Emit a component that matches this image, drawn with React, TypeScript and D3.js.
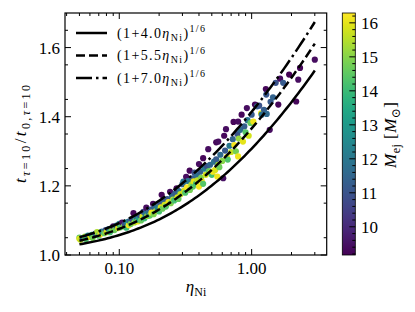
import * as d3 from "d3";

// eta_Ni, t ratio and ejecta mass for each model
const etaNi = [
  0.05, 0.05, 0.051, 0.053, 0.055, 0.056, 0.058, 0.06, 0.062, 0.063, 0.066, 0.068, 0.07, 0.072, 0.074, 0.077, 0.079, 0.08,
  0.083, 0.085, 0.088, 0.09, 0.092, 0.095, 0.098, 0.1, 0.102, 0.105,
  0.108, 0.11, 0.113, 0.115, 0.118, 0.12, 0.122, 0.125, 0.128, 0.13, 0.133, 0.135, 0.138, 0.14, 0.143, 0.146, 0.15, 0.152,
  0.155, 0.158, 0.16, 0.163, 0.166, 0.17, 0.172, 0.175, 0.18, 0.182, 0.185, 0.19, 0.195, 0.2, 0.203, 0.206, 0.209, 0.212,
  0.216, 0.22, 0.225, 0.23, 0.235, 0.242, 0.245, 0.25, 0.255, 0.26, 0.265, 0.271, 0.275, 0.28, 0.285, 0.29,
  0.3, 0.305, 0.31, 0.315, 0.32, 0.325, 0.33, 0.34, 0.342, 0.35, 0.355, 0.36, 0.365, 0.37, 0.38, 0.385, 0.39, 0.4, 0.4,
  0.41, 0.415, 0.42, 0.43, 0.43, 0.44, 0.45, 0.46, 0.47, 0.475, 0.485, 0.49, 0.5, 0.51, 0.52, 0.53, 0.54, 0.54, 0.55,
  0.56, 0.56, 0.57, 0.58, 0.6, 0.61, 0.62, 0.63, 0.64, 0.65, 0.66, 0.68, 0.7, 0.72, 0.73, 0.74, 0.76, 0.78, 0.79, 0.79,
  0.8, 0.82, 0.84, 0.86, 0.88, 0.9, 0.92, 0.93, 0.95, 0.98, 1.0, 1.03, 1.06,
  1.1, 1.14, 1.18, 1.19, 1.24, 1.28, 1.29, 1.3, 1.37, 1.39, 1.45, 1.52, 1.59, 1.64, 1.73, 1.92, 2.17, 2.25, 2.32, 3.0,
];
const tRatio = [
  1.05, 1.047, 1.044, 1.049, 1.053, 1.046, 1.056, 1.052, 1.058, 1.049, 1.062, 1.066, 1.056, 1.06, 1.068, 1.063, 1.072, 1.066,
  1.075, 1.066, 1.077, 1.083, 1.072, 1.085, 1.078, 1.09, 1.08, 1.094,
  1.083, 1.088, 1.079, 1.095, 1.086, 1.098, 1.09, 1.104, 1.121, 1.094, 1.1, 1.11, 1.097, 1.103, 1.115, 1.1, 1.112, 1.125,
  1.106, 1.118, 1.137, 1.113, 1.122, 1.114, 1.131, 1.123, 1.148, 1.118, 1.14, 1.128, 1.135, 1.126, 1.15, 1.138, 1.174, 1.134,
  1.155, 1.145, 1.14, 1.162, 1.153, 1.183, 1.15, 1.17, 1.16, 1.158, 1.178, 1.193, 1.167, 1.162, 1.184, 1.176,
  1.205, 1.212, 1.186, 1.18, 1.226, 1.196, 1.214, 1.244, 1.188, 1.203, 1.222, 1.198, 1.213, 1.238, 1.206, 1.23, 1.216, 1.263, 1.198,
  1.241, 1.223, 1.214, 1.28, 1.206, 1.25, 1.232, 1.257, 1.306, 1.243, 1.261, 1.238, 1.232, 1.241, 1.27, 1.246, 1.326, 1.277, 1.227,
  1.261, 1.328, 1.254, 1.29, 1.272, 1.222, 1.345, 1.302, 1.364, 1.283, 1.276, 1.316, 1.298, 1.335, 1.385, 1.318, 1.3, 1.35, 1.386, 1.285,
  1.337, 1.362, 1.406, 1.328, 1.372, 1.355, 1.425, 1.39, 1.345, 1.382, 1.406, 1.386, 1.435,
  1.43, 1.432, 1.41, 1.406, 1.42, 1.48, 1.464, 1.408, 1.362, 1.443, 1.456, 1.498, 1.435, 1.51, 1.498, 1.522, 1.444, 1.507, 1.541, 1.565,
];
const mEj = [
  14.6, 16.0, 15.6, 11.8, 15.2, 14.3, 12.4, 15.9, 13.9, 14.8, 11.2, 15.4, 14.4, 16.1, 12.0, 14.6, 10.9, 15.8,
  11.5, 14.2, 15.0, 9.5, 14.7, 11.3, 15.9, 12.2, 14.5, 9.4,
  15.1, 11.0, 14.0, 12.6, 16.2, 11.4, 14.8, 10.9, 9.3, 15.5, 14.3, 11.6, 16.0, 13.2, 11.1, 14.6, 15.9, 10.8,
  14.1, 12.0, 9.4, 15.3, 11.7, 14.5, 11.2, 16.1, 9.3, 14.9, 11.5, 15.6, 12.3, 14.2, 11.0, 16.0, 9.3, 14.7,
  11.4, 15.8, 14.4, 11.1, 16.1, 9.4, 14.9, 11.6, 15.5, 14.2, 11.3, 9.3, 16.0, 14.6, 12.1, 15.7,
  11.4, 11.8, 15.9, 14.3, 9.4, 16.29, 12.0, 9.3, 14.8, 15.4, 11.2, 14.5, 16.0, 10.9, 14.1, 11.7, 15.6, 9.4, 16.2,
  11.3, 14.9, 16.1, 9.3, 14.4, 12.2, 15.8, 11.0, 9.4, 14.6, 11.5, 16.0, 14.2, 16.2, 11.8, 15.9, 9.3, 11.2, 16.1,
  15.4, 9.4, 14.7, 11.6, 15.0, 9.5, 9.3, 11.1, 9.4, 16.0, 14.3, 12.0, 15.7, 11.4, 9.3, 16.2, 14.8, 11.0, 9.4, 16.1,
  15.2, 11.7, 9.3, 16.0, 11.3, 14.4, 9.4, 11.9, 15.8, 14.6, 11.2, 16.1, 9.3,
  11.5, 11.0, 16.0, 11.8, 11.3, 9.3, 11.1, 11.6, 9.4, 11.2, 11.4, 11.0, 9.3, 9.4, 11.2, 9.17, 9.3, 9.4, 9.3, 9.4,
];

const fitCoeffs = [4.0, 5.5, 7.0];
const fitLabels = ["4.0", "5.5", "7.0"];
const fitDash = ["", "9,4", "16,4,2.5,4"];
const yTicks = [1.0, 1.2, 1.4, 1.6];
const xTicks = [0.1, 1.0];
const cbTicks = [10, 11, 12, 13, 14, 15, 16];

const W = 415;
const H = 312;
const left = 65;
const right = 326.7;
const top = 13;
const bottom = 255;
const cbLeft = 342.3;
const cbRight = 355.3;
const font = "Liberation Serif, Times New Roman, DejaVu Serif, serif";

export default function App() {
  const x = d3.scaleLog().domain([0.0389, 3.69]).range([left, right]);
  const y = d3.scaleLinear().domain([1.0, 1.7]).range([bottom, top]);
  const [mMin, mMax] = d3.extent(mEj) as [number, number];
  const cb = d3.scaleLinear().domain([mMin, mMax]).range([bottom, top]);
  const color = d3.scaleSequential(d3.interpolateViridis).domain([mMin, mMax]);

  const xMinor: number[] = [];
  for (const d of [-2, -1, 0]) {
    for (let k = 2; k <= 9; k++) {
      const v = k * Math.pow(10, d);
      if (v > 0.0389 && v < 3.69) xMinor.push(v);
    }
  }
  const yMinor = d3.range(1.05, 1.69, 0.1);
  const cbMinor = d3.range(9.2, 16.3, 0.2).filter((v) => Math.abs(v - Math.round(v)) > 0.05);

  // model curves (1 + a*eta)^(1/6)
  const etaGrid = d3.range(0, 101).map((i) => 0.05 * Math.pow(60, i / 100));
  const fitPaths = fitCoeffs.map((a) =>
    d3
      .line<number>()
      .x((e) => x(e))
      .y((e) => y(Math.pow(1 + a * e, 1 / 6)))(etaGrid)
  );

  const points = etaNi.map((e, i) => ({ e, r: tRatio[i], m: mEj[i] }));
  const gradStops = d3.range(0, 1.0001, 0.05);

  return (
    <svg
      width={W}
      height={H}
      style={{ position: "absolute", left: 0, top: 0, background: "#fff", fontFamily: font }}
    >
      <defs>
        <linearGradient id="viridis" x1="0" y1="1" x2="0" y2="0">
          {gradStops.map((t) => (
            <stop key={t} offset={t} stopColor={d3.interpolateViridis(t)} />
          ))}
        </linearGradient>
        <clipPath id="plotclip">
          <rect x={left} y={top} width={right - left} height={bottom - top} />
        </clipPath>
      </defs>

      {/* scatter + curves */}
      <g clipPath="url(#plotclip)">
        {points.map((p, i) => (
          <circle key={i} cx={x(p.e)} cy={y(p.r)} r={3.1} fill={color(p.m)} />
        ))}
        {fitPaths.map((d, i) => (
          <path
            key={i}
            d={d || ""}
            fill="none"
            stroke="#000"
            strokeWidth={2.5}
            strokeDasharray={fitDash[i]}
          />
        ))}
      </g>

      <rect x={left} y={top} width={right - left} height={bottom - top} fill="none" stroke="#000" strokeWidth={1.2} />

      {/* x ticks */}
      {xTicks.map((t) => (
        <g key={t}>
          <line x1={x(t)} x2={x(t)} y1={bottom} y2={bottom - 6} stroke="#000" />
          <line x1={x(t)} x2={x(t)} y1={top} y2={top + 6} stroke="#000" />
          <text x={x(t)} y={274} fontSize={17} textAnchor="middle">
            {d3.format(".2f")(t)}
          </text>
        </g>
      ))}
      {xMinor.map((t) => (
        <g key={t}>
          <line x1={x(t)} x2={x(t)} y1={bottom} y2={bottom - 3} stroke="#000" />
          <line x1={x(t)} x2={x(t)} y1={top} y2={top + 3} stroke="#000" />
        </g>
      ))}

      {/* y ticks */}
      {yTicks.map((t) => (
        <g key={t}>
          <line x1={left} x2={left + 6} y1={y(t)} y2={y(t)} stroke="#000" />
          <line x1={right} x2={right - 6} y1={y(t)} y2={y(t)} stroke="#000" />
          <text x={60} y={y(t)} dy="0.35em" fontSize={17} textAnchor="end">
            {d3.format(".1f")(t)}
          </text>
        </g>
      ))}
      {yMinor.map((t) => (
        <g key={t}>
          <line x1={left} x2={left + 3} y1={y(t)} y2={y(t)} stroke="#000" />
          <line x1={right} x2={right - 3} y1={y(t)} y2={y(t)} stroke="#000" />
        </g>
      ))}

      {/* axis labels */}
      <text x={196} y={292} fontSize={17} textAnchor="middle">
        <tspan fontStyle="italic">η</tspan>
        <tspan fontSize={12} dy={4}>Ni</tspan>
      </text>
      <text transform="translate(26,134) rotate(-90)" fontSize={17} textAnchor="middle" textLength={98} lengthAdjust="spacing">
        <tspan fontStyle="italic">t</tspan>
        <tspan fontSize={12} dy={4} fontStyle="italic">τ</tspan>
        <tspan fontSize={12}>=10</tspan>
        <tspan dy={-4}>/</tspan>
        <tspan fontStyle="italic">t</tspan>
        <tspan fontSize={12} dy={4}>0,</tspan>
        <tspan fontSize={12} fontStyle="italic">τ</tspan>
        <tspan fontSize={12}>=10</tspan>
      </text>

      {/* legend */}
      {fitCoeffs.map((a, i) => {
        const cy = 33 + i * 22.5;
        return (
          <g key={a}>
            <line x1={76} x2={107} y1={cy} y2={cy} stroke="#000" strokeWidth={2.5} strokeDasharray={fitDash[i]} />
            <text x={117} y={cy + 4.5} fontSize={14} textLength={88} lengthAdjust="spacing">
              <tspan>(1+{fitLabels[i]}</tspan>
              <tspan fontStyle="italic">η</tspan>
              <tspan fontSize={10} dy={3}>Ni</tspan>
              <tspan dy={-3}>)</tspan>
              <tspan fontSize={10} dy={-6}>1/6</tspan>
            </text>
          </g>
        );
      })}

      {/* colorbar */}
      <rect x={cbLeft} y={top} width={cbRight - cbLeft} height={bottom - top} fill="url(#viridis)" stroke="#000" strokeWidth={0.8} />
      {cbTicks.map((t) => (
        <g key={t}>
          <line x1={cbRight} x2={cbRight - 6} y1={cb(t)} y2={cb(t)} stroke="#000" />
          <text x={361} y={cb(t)} dy="0.35em" fontSize={17}>
            {t}
          </text>
        </g>
      ))}
      {cbMinor.map((t) => (
        <line key={t} x1={cbRight} x2={cbRight - 3} y1={cb(t)} y2={cb(t)} stroke="#000" />
      ))}
      <text transform="translate(396,135) rotate(-90)" fontSize={17} textAnchor="middle" textLength={66} lengthAdjust="spacing">
        <tspan fontStyle="italic">M</tspan>
        <tspan fontSize={12} dy={4}>ej</tspan>
        <tspan dy={-4}> [</tspan>
        <tspan fontStyle="italic">M</tspan>
        <tspan fontSize={12} dy={4}>⊙</tspan>
        <tspan dy={-4}>]</tspan>
      </text>
    </svg>
  );
}
